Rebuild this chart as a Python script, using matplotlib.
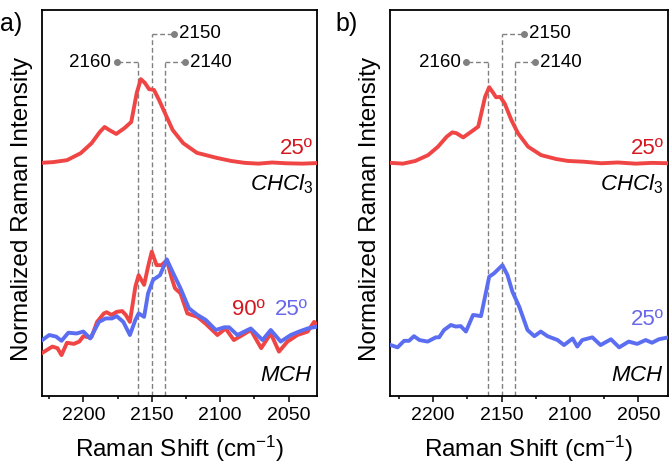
import matplotlib
matplotlib.use("Agg")
import matplotlib.pyplot as plt
import numpy as np

plt.rcParams['font.family'] = ['Liberation Sans', 'DejaVu Sans']
plt.rcParams['mathtext.fontset'] = 'custom'
plt.rcParams['mathtext.rm'] = 'Liberation Sans'
plt.rcParams['mathtext.it'] = 'Liberation Sans:italic'

# ---- data (Raman shift in cm-1, offset normalized intensity) ----
# panel a, CHCl3 25º
a_chcl3_x = [2231, 2222, 2212, 2202, 2194, 2188, 2184.5, 2181, 2176, 2170, 2165, 2161, 2158,
             2155, 2152, 2148.4, 2144.7, 2139.7, 2134.7, 2127, 2117, 2102.6, 2092, 2082,
             2072, 2062, 2052, 2040, 2025]
a_chcl3_y = [60.4, 60.6, 61.1, 62.9, 65.5, 68.4, 69.7, 68.9, 67.9, 69.4, 71.0, 78.5, 82.1,
             81.1, 79.5, 79.3, 76.7, 72.8, 68.9, 65.5, 63.0, 61.7, 60.9, 60.4,
             60.2, 60.5, 60.3, 60.2, 60.4]

# panel a, MCH 90º
a_mch90_x = [2230, 2222.7, 2219, 2216, 2212, 2207, 2203, 2200, 2196, 2194, 2190, 2185, 2183,
             2179.4, 2175.7, 2171.6, 2169, 2166, 2162, 2159.6, 2155.6, 2152.7, 2150, 2146.5,
             2142.8, 2139, 2135.4, 2133, 2129, 2124, 2116.6, 2110.5, 2102, 2096, 2090,
             2083.7, 2077.6, 2070, 2063, 2057, 2050.8, 2043.5, 2036, 2031.3, 2029]
a_mch90_y = [11.2, 12.8, 12.4, 10.6, 13.8, 13.5, 14.1, 15.5, 15.2, 15.3, 19.2, 21.4, 21.7,
             21.0, 21.8, 22.0, 21.0, 19.2, 28.3, 31.3, 28.8, 33.5, 37.4, 33.9,
             33.9, 35.2, 30.5, 27.9, 26.6, 21.4, 20.5, 18.7, 15.8, 17.5, 14.5,
             15.8, 17.1, 12.4, 16.2, 11.5, 14.1, 15.8, 16.7, 19.2, 18.4]

# panel a, MCH 25º
a_mch25_x = [2230, 2225, 2220, 2216, 2211, 2205, 2200, 2195, 2188.6, 2183.7, 2179, 2175.7,
             2170.8, 2166, 2162, 2159.6, 2155.6, 2152.7, 2149, 2144, 2139, 2135.4, 2129,
             2122.8, 2116.6, 2110.5, 2103.2, 2097, 2093.5, 2087.4, 2077.6, 2069, 2063,
             2055.7, 2048.4, 2042.3, 2036, 2028.8]
a_mch25_y = [14.5, 15.8, 15.4, 14.3, 16.4, 16.2, 16.7, 14.9, 19.2, 20.1, 20.1, 20.7,
             19.2, 15.8, 19.7, 21.4, 20.5, 26.6, 30.1, 31.3, 35.4, 32.6, 27.9,
             22.7, 21.0, 19.7, 17.1, 17.8, 17.8, 15.8, 17.5, 14.5, 17.1,
             14.1, 15.8, 16.7, 17.5, 18.0]

# panel b, CHCl3 25º
b_chcl3_x = [2231, 2222, 2213, 2203.7, 2196.4, 2190, 2186, 2183, 2178, 2172, 2167, 2162, 2159,
             2156.2, 2154, 2151, 2147.7, 2142.8, 2138, 2130.6, 2121, 2110, 2101.5, 2090,
             2077, 2065, 2052, 2040, 2028]
b_chcl3_y = [60.4, 60.2, 60.9, 62.4, 64.6, 67.2, 68.3, 68.1, 67.0, 68.5, 69.8, 77.5, 80.0,
             78.6, 77.4, 77.5, 75.8, 71.5, 68.1, 64.6, 62.4, 61.4, 60.9, 60.7,
             60.3, 60.5, 60.2, 60.4, 60.3]

# panel b, MCH 25º
b_mch25_x = [2231, 2226, 2221.2, 2217.6, 2214, 2210, 2204, 2198, 2195.6, 2192, 2187, 2183.5,
             2179.8, 2176, 2170.8, 2165, 2159, 2155.4, 2149.3, 2145.6, 2142, 2137, 2131,
             2126, 2121.3, 2116.4, 2109, 2104.3, 2098, 2094.6, 2091, 2083.6, 2077.6, 2070,
             2064, 2057, 2050.8, 2044.6, 2040, 2035, 2028]
b_mch25_y = [13.2, 12.6, 14.3, 14.3, 15.5, 14.5, 14.1, 15.2, 15.2, 17.1, 18.4, 18.0,
             18.1, 16.7, 21.0, 20.7, 30.9, 31.8, 33.9, 31.3, 27.0, 23.1, 17.1,
             15.5, 16.7, 15.5, 14.5, 13.2, 14.9, 12.8, 14.5, 15.2, 13.2, 14.7,
             12.6, 14.1, 13.5, 14.5, 13.8, 14.7, 15.2]

peaks = [2160, 2150, 2140]
peak_labels = ['2160', '2150', '2140']
peak_ann_y = [86.5, 93.8, 86.5]
peak_dot_x = [2175.6, 2133.8, 2125.8]

red = '#F04545'
blue = '#5B6EF2'
red_txt = '#D51820'
blue_txt = '#6868E8'
gray = '#808080'

fig = plt.figure(figsize=(6.7, 4.66), dpi=100)
ax_a = fig.add_axes([0.0622, 0.1502, 0.4113, 0.8283])
ax_b = fig.add_axes([0.5821, 0.1502, 0.4145, 0.8283])


def style_axis(ax, xlim):
    ax.set_xlim(*xlim)
    ax.set_ylim(0, 100)
    ax.set_yticks([])
    ax.set_xticks([2200, 2150, 2100, 2050])
    ax.set_xticks([2225, 2175, 2125, 2075], minor=True)
    ax.tick_params(axis='x', which='major', direction='out', length=4, width=1.1,
                   labelsize=14, pad=4)
    ax.tick_params(axis='x', which='minor', direction='out', length=2.5, width=1.1)
    for s in ax.spines.values():
        s.set_linewidth(1.3)
    ax.set_xlabel('Raman Shift (cm$^{-1}$)', fontsize=17.5, labelpad=7)
    ax.set_ylabel('Normalized Raman Intensity', fontsize=17.5)
    ax.yaxis.set_label_coords(-0.032, 0.4845)


def draw_peaks(ax):
    for p, lab, yy, dx in zip(peaks, peak_labels, peak_ann_y, peak_dot_x):
        ax.plot([p, p], [0, yy], ls=(0, (3.5, 2)), color=gray, lw=1.0, zorder=1)
        ax.plot([p, dx], [yy, yy], ls=(0, (3.5, 2)), color=gray, lw=1.0, zorder=1)
        ax.plot(dx, yy, 'o', color=gray, ms=4, zorder=2)
        if dx > p:
            ax.annotate(lab, (dx, yy), xytext=(-4, 0), textcoords='offset points',
                        ha='right', va='center', fontsize=13.5)
        else:
            ax.annotate(lab, (dx, yy), xytext=(4, 0), textcoords='offset points',
                        ha='left', va='center', fontsize=13.5)


chcl3_lab = r'$\mathit{CHCl}_{\mathit{3}}$'
mch_lab = r'$\mathit{MCH}$'

# ---- panel a ----
style_axis(ax_a, (2230.5, 2029))
draw_peaks(ax_a)
ax_a.plot(a_chcl3_x, a_chcl3_y, color=red, lw=2.8, zorder=3)
ax_a.plot(a_mch90_x, a_mch90_y, color=red, lw=2.8, zorder=3)
ax_a.plot(a_mch25_x, a_mch25_y, color=blue, lw=2.8, zorder=4)
ax_a.text(0.985, 0.64, '25º', color=red_txt, fontsize=16, ha='right', va='center',
          transform=ax_a.transAxes)
ax_a.text(0.985, 0.548, chcl3_lab, fontsize=16, ha='right', va='center',
          transform=ax_a.transAxes)
ax_a.text(0.81, 0.223, '90º', color=red_txt, fontsize=16, ha='right', va='center',
          transform=ax_a.transAxes)
ax_a.text(0.967, 0.223, '25º', color=blue_txt, fontsize=16, ha='right', va='center',
          transform=ax_a.transAxes)
ax_a.text(0.985, 0.052, mch_lab, fontsize=16, ha='right', va='center',
          transform=ax_a.transAxes)

# ---- panel b ----
style_axis(ax_b, (2231.5, 2028.5))
draw_peaks(ax_b)
ax_b.plot(b_chcl3_x, b_chcl3_y, color=red, lw=2.8, zorder=3)
ax_b.plot(b_mch25_x, b_mch25_y, color=blue, lw=2.8, zorder=4)
ax_b.text(0.985, 0.64, '25º', color=red_txt, fontsize=16, ha='right', va='center',
          transform=ax_b.transAxes)
ax_b.text(0.985, 0.548, chcl3_lab, fontsize=16, ha='right', va='center',
          transform=ax_b.transAxes)
ax_b.text(0.985, 0.197, '25º', color=blue_txt, fontsize=16, ha='right', va='center',
          transform=ax_b.transAxes)
ax_b.text(0.985, 0.052, mch_lab, fontsize=16, ha='right', va='center',
          transform=ax_b.transAxes)

fig.text(0.0, 0.975, 'a)', fontsize=18, ha='left', va='top')
fig.text(0.5, 0.975, 'b)', fontsize=18, ha='left', va='top')

fig.savefig('out.png', dpi=100)
